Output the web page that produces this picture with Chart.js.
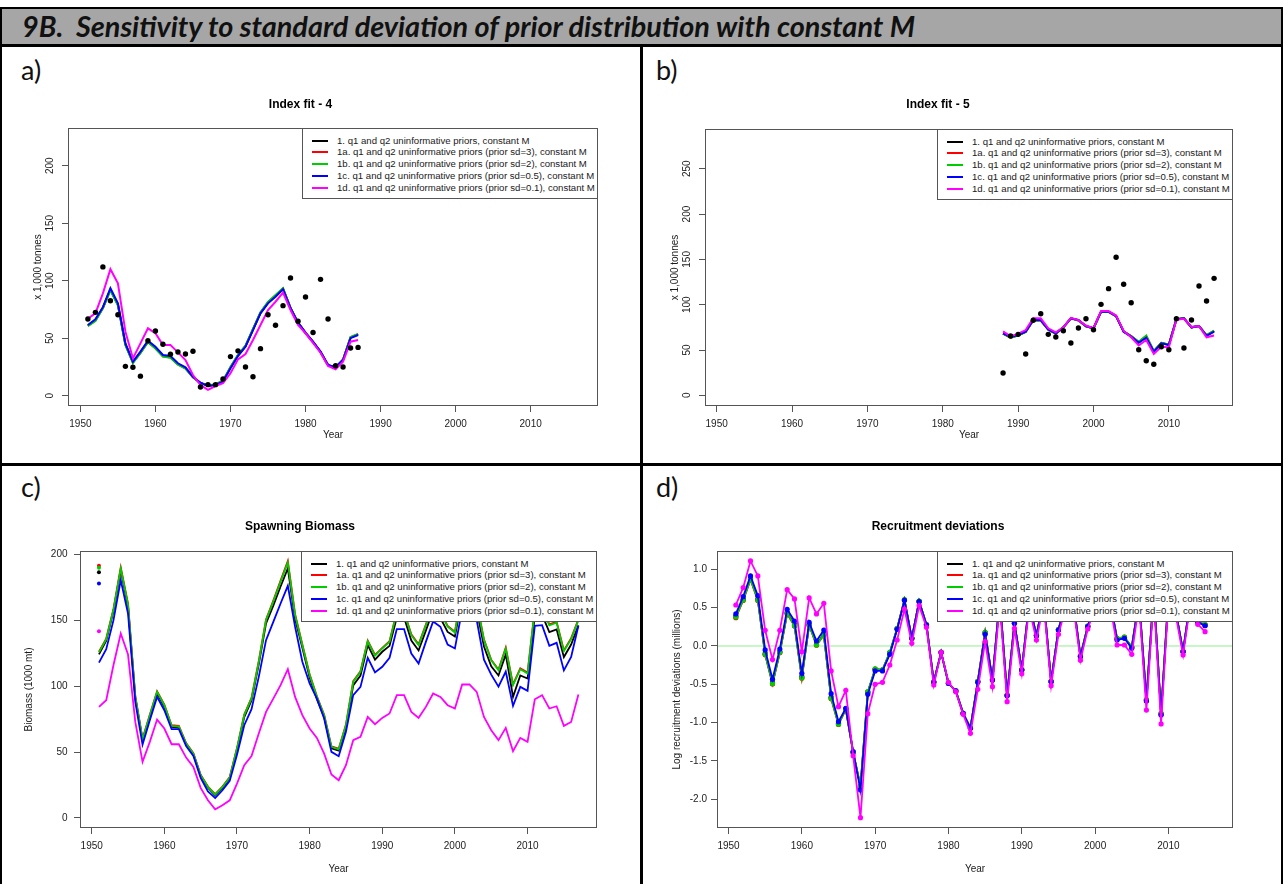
<!DOCTYPE html>
<html>
<head>
<meta charset="utf-8">
<title>9B. Sensitivity to standard deviation of prior distribution with constant M</title>
<script src="https://cdn.jsdelivr.net/npm/chart.js@4.4.1/dist/chart.umd.min.js"></script>
<style>
html, body { margin: 0; padding: 0; background: #fff; }
#page { position: relative; width: 1283px; height: 884px; overflow: hidden; background: #fff; }
.rule { position: absolute; background: #000; z-index: 5; }
#hdr { position: absolute; left: 2px; top: 9px; width: 1279px; height: 35px; background: #a6a6a6; }
#hdrText { position: absolute; left: 20px; top: 0; line-height: 35px; font-family: Lato, 'Open Sans', sans-serif;
  font-weight: 700; font-style: italic; font-size: 26px; color: #111; white-space: pre; }
.tag { position: absolute; font-family: Lato, sans-serif; font-size: 27px; line-height: 30px; color: #111; }
canvas { position: absolute; }
.legend { position: absolute; background: #fff; border: 1px solid #555; box-sizing: border-box; width: 296px; height: 71px;
  font-family: 'Liberation Sans', Arial, sans-serif; font-size: 9.6px; color: #1a1a1a; z-index: 3; padding-top: 5.6px; }
.legend div { height: 11.8px; line-height: 11.8px; white-space: nowrap; position: relative; padding-left: 34px; }
.legend span { position: absolute; left: 8.5px; top: 5px; width: 16px; height: 2px; }
</style>
</head>
<body>
<div id="page">
  <div id="hdr"><span id="hdrText">9B.  Sensitivity to standard deviation of prior distribution with constant M</span></div>
  <div class="tag" style="left:21px; top:55px;">a)</div>
  <div class="tag" style="left:656px; top:55px;">b)</div>
  <div class="tag" style="left:21px; top:472px;">c)</div>
  <div class="tag" style="left:656px; top:472px;">d)</div>
</div>
<script>
// ---- data ----
const yearTicks = [1950, 1960, 1970, 1980, 1990, 2000, 2010];
const yTicksA = [0, 50, 100, 150, 200];
const yTicksB = [0, 50, 100, 150, 200, 250];
const yTicksC = [0, 50, 100, 150, 200];
const yTicksD = [-2, -1.5, -1, -0.5, 0, 0.5, 1];

const seriesNames = [
  '1. q1 and q2 uninformative priors, constant M',
  '1a. q1 and q2 uninformative priors (prior sd=3), constant M',
  '1b. q1 and q2 uninformative priors (prior sd=2), constant M',
  '1c. q1 and q2 uninformative priors (prior sd=0.5), constant M',
  '1d. q1 and q2 uninformative priors (prior sd=0.1), constant M'
];
const seriesColors = ['#000000', '#ff0000', '#00cd00', '#0000ff', '#ff00ff'];

function seq(a, b) { const r = []; for (let y = a; y <= b; y++) r.push(y); return r; }

// a) Index fit - 4 (1951-1987)
const yearsA = seq(1951, 1987);
const obsA = [66.7, 72.5, 112, 82.6, 70.4, 25.5, 24.7, 17, 47.8, 56.2, 44.7, 36, 38, 36.2, 38.6, 7.6, 9.6, 9.6, 14.5,
  34, 39, 25, 16.5, 40.9, 70.4, 61.2, 78.3, 102.3, 64.7, 85.8, 55, 101.2, 66.7, 26, 25, 41.5, 42];
const blackA = [61, 65.7, 76.5, 92.5, 79.5, 44.8, 29, 37.7, 47.2, 41.8, 34.7, 33.8, 27.6, 24.1, 16.2, 11.1, 8.6, 9.6, 12.6,
  24.4, 35, 43, 57.5, 72, 81, 86.8, 93, 76.2, 63.5, 54.6, 46.8, 38.1, 26.6, 24.6, 31.2, 50.5, 53.3];
const redA = [60.8, 65.3, 76.3, 92, 79, 44.3, 28.8, 37.3, 46.8, 41.3, 34.3, 33.3, 27.3, 23.8, 16.1, 11, 8.7, 9.8, 12.8,
  24.7, 35.3, 43.3, 57.8, 72.3, 81.3, 87.2, 93.3, 76.4, 63.5, 54.5, 46.6, 38, 26.5, 24.5, 31.4, 50.8, 53.5];
const greenA = [60.5, 65, 76, 91.5, 78.5, 44, 28.5, 37, 46.5, 41, 34, 33, 27, 23.5, 16, 11, 8.8, 10, 13,
  25, 35.5, 43.5, 58, 72.5, 81.5, 87.5, 93.5, 76.5, 63.5, 54.5, 46.5, 38, 26.5, 24.5, 31.5, 51, 53.8];
const blueA = [61.5, 66.4, 77, 93.4, 80.3, 45.5, 29.6, 38.3, 47.8, 42.6, 35.4, 34.5, 28.2, 24.7, 16.5, 11.3, 8.4, 9.3, 12.2,
  23.8, 34.5, 42.6, 57, 71.6, 80.3, 86, 92.5, 76, 63.5, 54.8, 47, 38.3, 26.7, 24.7, 31, 50, 52.8];
const magentaA = [67, 71.6, 89, 110, 97.7, 55.7, 32.5, 45.5, 58.6, 54.3, 44, 44, 37.7, 31, 18, 9.3, 5, 8.4, 10.8,
  19.5, 31.6, 36.2, 48.4, 61.5, 74.5, 81.7, 89.6, 74.5, 61.5, 54.3, 46, 37.4, 25.8, 23, 29.6, 47, 48.4];

// b) Index fit - 5 (1988-2016)
const yearsB = seq(1988, 2016);
const obsB = [24.6, 65.5, 67.3, 45.6, 82.8, 90, 67.3, 64.3, 71.3, 57.7, 74.3, 84.5, 72.4, 100.4, 117.7, 152.3, 122.5,
  102.2, 50.3, 38.2, 34.2, 53.6, 50.3, 84.5, 52.2, 83.1, 120.6, 104, 129.1];
const blackB = [68.2, 64, 66.3, 70.1, 82.8, 82.8, 72.6, 68.2, 75, 85, 82.8, 76.2, 74, 92.2, 92.2, 87.5, 70.3,
  65, 58.5, 64.5, 48.5, 57.7, 55.7, 84, 85, 75, 76.5, 66, 70.8];
const redB = [68, 63.6, 66.1, 70, 82.6, 82.6, 72.5, 68, 75, 85, 82.6, 76, 74, 92, 92, 87.5, 70.4,
  65.3, 58.8, 65.5, 48.8, 57.9, 55.9, 84, 85, 75, 76.5, 66.3, 71.2];
const greenB = [68, 63.5, 66, 70, 82.5, 82.5, 72.5, 68, 75, 85, 82.5, 76, 74, 92, 92, 87.5, 70.5,
  65.5, 59, 66, 49, 58, 56, 84, 85, 75, 76.5, 66.5, 71.5];
const blueB = [68.5, 64.5, 66.6, 70.2, 83.1, 83.1, 72.8, 68.4, 75, 85, 83.1, 76.5, 74, 92.3, 92.3, 87.5, 70.2,
  64.7, 58, 63.5, 48.1, 57.4, 55.5, 83.9, 85, 75, 76.5, 65.5, 70.2];
const magentaB = [70.5, 65, 68, 72, 85, 85, 74, 69.5, 75, 85.5, 83, 77, 74, 93, 93, 88, 71,
  64, 55, 61, 45.6, 53.6, 53, 83.5, 84.5, 75.5, 76.5, 64, 66];

// c) Spawning Biomass (1951-2017), plus the single points at 1951
const yearsC = seq(1951, 2017);
const blackC = [124, 134.5, 157, 188, 160.5, 91, 59, 77, 94.5, 84.5,
  69, 68.5, 55.8, 48.2, 32, 23, 17.2, 23, 30, 51.5,
  76.5, 89, 116.5, 147.5, 161, 175.5, 189.2, 151, 129, 106.5,
  90, 76.5, 52.8, 51, 68.5, 100.5, 108, 131, 120, 126,
  130.5, 152, 152, 134.5, 127, 142, 157.5, 151.5, 141, 137.5,
  167, 171, 158, 130, 115, 108, 124, 91.8, 108, 105.7,
  153, 154, 141, 143, 122, 131.5, 146];
const redC = [126, 136, 158.5, 190, 162.5, 92.5, 60, 78.3, 96, 86,
  70.3, 69.8, 56.8, 49.2, 32.8, 23.8, 18, 23.8, 31, 53,
  78.5, 91, 119, 150.5, 164.8, 180, 194.8, 154.5, 131.5, 109,
  92.2, 78.3, 54.3, 52.5, 70.8, 103.8, 111.3, 134.5, 123.6, 129,
  134, 156.5, 156.5, 139.2, 131.6, 146.6, 162.5, 156.5, 145.6, 141.2,
  172.5, 176.5, 163.5, 135.4, 120, 112.6, 129.2, 101.3, 113.4, 110.2,
  158.6, 159.6, 146.8, 148.8, 127, 136.3, 150.6];
const greenC = [125.5, 135.6, 158, 189.2, 161.9, 92, 59.7, 77.9, 95.6, 85.5,
  69.8, 69.3, 56.4, 48.8, 32.4, 23.5, 17.7, 23.5, 30.6, 52.6,
  78, 90.6, 118.4, 150, 164, 179, 193.7, 153.8, 131, 108.5,
  91.8, 77.9, 53.9, 52.1, 70.3, 103.2, 110.8, 134, 123, 128.5,
  133.5, 156, 156, 138.6, 131, 146, 162, 156, 145, 140.6,
  172, 176, 163, 134.8, 119.5, 112, 128.5, 100.7, 112.8, 109.5,
  158, 159, 146, 148, 126.4, 135.6, 150];
const blueC = [117.8, 128, 150, 180.3, 155, 88, 55.6, 74, 91.8, 81.7,
  67.3, 67.3, 54.6, 47, 30.4, 20.2, 15.2, 21, 28.1, 48,
  70.3, 82.5, 107, 134.8, 148.7, 162.6, 176, 145, 118.4, 102,
  90.5, 75.4, 50.1, 46.8, 65.3, 93.1, 99.4, 121.4, 110.3, 114.6,
  121.4, 143.2, 143.2, 124.7, 117, 133.5, 149, 145, 131.5, 128.5,
  158, 162, 150, 120, 108.7, 99.6, 111, 85, 99.4, 96.4,
  145.7, 146.2, 130.5, 132.8, 111.9, 122, 145.7];
const magentaC = [84.2, 89.3, 116, 139.9, 123.9, 72.8, 42.5, 57.7, 74.6, 67.8,
  55.9, 55.9, 45.8, 38.7, 22.8, 13.4, 6.6, 9.6, 13.4, 26,
  40, 47, 64, 80.4, 90.5, 100.7, 112.8, 91.8, 78, 67.8,
  60.7, 48.8, 32.9, 28.6, 40, 59, 61.5, 76.6, 71.1, 75.9,
  79.2, 93.1, 93.1, 80.4, 75.9, 84.2, 94.4, 91.8, 85.5, 83,
  101.2, 101.2, 95.6, 76.6, 66.5, 59, 68.3, 50.6, 60.7, 57.7,
  90, 93.1, 83, 84.7, 69.8, 72.8, 93.6];
const startYearC = [1951];
const startBlackC = [186.2];
const startRedC = [191.2];
const startGreenC = [189.7];
const startBlueC = [177.8];
const startMagentaC = [141.6];

// d) Recruitment deviations (1951-2015)
const yearsD = seq(1951, 2015);
const blackD = [0.39, 0.61, 0.88, 0.61, -0.1, -0.48, -0.075, 0.435, 0.275, -0.4,
  0.28, 0.02, 0.155, -0.67, -1.01, -0.82, -1.385, -1.84, -0.605, -0.305,
  -0.315, -0.09, 0.225, 0.6, 0.1, 0.582, 0.277, -0.47, -0.083, -0.487,
  -0.587, -0.879, -1.072, -0.465, 0.17, -0.444, 0.62, -0.644, 0.298, -0.311,
  0.55, 0.138, 0.6, -0.463, 0.212, 0.55, 0.6, -0.134, 0.256, 0.55,
  0.7, 0.6, 0.09, 0.108, -0.02, 0.6, -0.71, 0.7, -0.89, 0.65,
  0.45, -0.072, 0.6, 0.315, 0.272];
const redD = [0.37, 0.595, 0.865, 0.595, -0.115, -0.495, -0.088, 0.42, 0.26, -0.42,
  0.27, 0.01, 0.14, -0.69, -1.025, -0.826, -1.392, -1.83, -0.6, -0.302,
  -0.31, -0.085, 0.228, 0.603, 0.1, 0.584, 0.279, -0.47, -0.083, -0.487,
  -0.587, -0.879, -1.07, -0.46, 0.176, -0.444, 0.62, -0.64, 0.3, -0.31,
  0.55, 0.14, 0.6, -0.46, 0.215, 0.55, 0.6, -0.13, 0.26, 0.55,
  0.7, 0.6, 0.1, 0.115, -0.01, 0.6, -0.7, 0.7, -0.88, 0.65,
  0.45, -0.07, 0.6, 0.32, 0.28];
const greenD = [0.379, 0.6, 0.87, 0.6, -0.109, -0.49, -0.083, 0.426, 0.265, -0.413,
  0.274, 0.013, 0.144, -0.683, -1.02, -0.822, -1.39, -1.823, -0.596, -0.3,
  -0.31, -0.083, 0.23, 0.605, 0.1, 0.585, 0.28, -0.47, -0.083, -0.487,
  -0.587, -0.879, -1.07, -0.46, 0.178, -0.444, 0.62, -0.64, 0.3, -0.31,
  0.55, 0.14, 0.6, -0.46, 0.215, 0.55, 0.6, -0.13, 0.26, 0.55,
  0.7, 0.6, 0.1, 0.115, -0.01, 0.6, -0.7, 0.7, -0.88, 0.65,
  0.45, -0.07, 0.6, 0.32, 0.28];
const blueD = [0.418, 0.644, 0.914, 0.657, -0.052, -0.435, -0.039, 0.479, 0.326, -0.357,
  0.309, 0.065, 0.209, -0.622, -0.988, -0.814, -1.379, -1.88, -0.631, -0.326,
  -0.326, -0.109, 0.218, 0.596, 0.1, 0.579, 0.274, -0.47, -0.083, -0.487,
  -0.587, -0.879, -1.075, -0.474, 0.152, -0.444, 0.62, -0.648, 0.296, -0.313,
  0.55, 0.135, 0.6, -0.466, 0.209, 0.55, 0.6, -0.139, 0.252, 0.55,
  0.7, 0.6, 0.078, 0.1, -0.03, 0.6, -0.718, 0.7, -0.9, 0.65,
  0.45, -0.074, 0.6, 0.309, 0.265];
const magentaD = [0.535, 0.762, 1.11, 0.914, 0.205, -0.178, 0.205, 0.735, 0.614, -0.074,
  0.627, 0.418, 0.557, -0.326, -0.792, -0.579, -1.432, -2.241, -0.883, -0.5,
  -0.474, -0.248, 0.078, 0.483, 0.035, 0.527, 0.244, -0.509, -0.083, -0.474,
  -0.596, -0.892, -1.14, -0.566, 0.057, -0.531, 0.55, -0.727, 0.231, -0.361,
  0.5, 0.078, 0.55, -0.518, 0.152, 0.5, 0.55, -0.187, 0.222, 0.5,
  0.65, 0.55, 0.013, 0.013, -0.109, 0.55, -0.836, 0.65, -1.018, 0.6,
  0.4, -0.117, 0.55, 0.283, 0.187];
const zeroLineX = [1948, 2020];
const zeroLineY = [0, 0];

// ---- page frame ----
const page = document.getElementById('page');
function rule(l, t, w, h) {
  const d = document.createElement('div');
  d.className = 'rule';
  d.style.left = l + 'px'; d.style.top = t + 'px';
  d.style.width = w + 'px'; d.style.height = h + 'px';
  page.appendChild(d);
}
rule(0, 7, 1283, 2);
rule(0, 44, 1283, 2.5);
rule(0, 7, 2, 877);
rule(1281, 7, 2, 877);
rule(640, 44, 3, 840);
rule(0, 463, 1283, 3);

// fit header text to its width in the reference
const ht = document.getElementById('hdrText');
const mctx = document.createElement('canvas').getContext('2d');
mctx.font = 'italic 700 26px Lato';
const hw = mctx.measureText(ht.textContent).width;
ht.style.fontSize = (26 * 895 / hw).toFixed(2) + 'px';

// ---- charts ----
Chart.defaults.font.family = "'Liberation Sans', Arial, sans-serif";
Chart.defaults.color = '#1a1a1a';

const boxPlugin = {
  id: 'box',
  afterDatasetsDraw(chart) {
    const a = chart.chartArea, ctx = chart.ctx;
    ctx.save();
    ctx.strokeStyle = '#555';
    ctx.lineWidth = 1;
    ctx.strokeRect(a.left + 0.5, a.top + 0.5, a.right - a.left - 1, a.bottom - a.top - 1);
    ctx.restore();
  }
};

function pts(xs, ys) { return ys.map((y, i) => ({ x: xs[i], y: y })); }

function line(xs, ys, color, order, extra) {
  return Object.assign({
    data: pts(xs, ys), borderColor: color, backgroundColor: color, borderWidth: 2,
    pointRadius: 0, tension: 0, order: order
  }, extra || {});
}

function dots(xs, ys, color, order, r) {
  return {
    data: pts(xs, ys), showLine: false, pointRadius: r, pointBackgroundColor: color,
    pointBorderWidth: 0, borderColor: color, backgroundColor: color, order: order
  };
}

function modelLines(xs, arrs, extra) {
  // black, red, green, blue, magenta; magenta drawn on top
  return arrs.map((ys, i) => line(xs, ys, seriesColors[i], 6 - i, extra));
}

function legend(right, top) {
  const lg = document.createElement('div');
  lg.className = 'legend';
  lg.style.left = (right - 296) + 'px';
  lg.style.top = top + 'px';
  seriesNames.forEach((name, i) => {
    const row = document.createElement('div');
    const sw = document.createElement('span');
    sw.style.background = seriesColors[i];
    row.appendChild(sw);
    row.appendChild(document.createTextNode(name));
    lg.appendChild(row);
  });
  page.appendChild(lg);
}

function panel(cv, box, o) {
  const [cl, ct, cw, ch] = cv;
  const [bl, bt, br, bb] = box;
  const c = document.createElement('canvas');
  c.width = cw; c.height = ch;
  c.style.left = cl + 'px'; c.style.top = ct + 'px';
  c.style.width = cw + 'px'; c.style.height = ch + 'px';
  page.appendChild(c);
  const yW = bl - cl, xH = ct + ch - bb;
  const tLH = 14.4, aLH = 12;
  const tTop = o.titleY - ct - tLH / 2;
  const yTickOpts = { padding: o.yPad, font: { size: o.tickSize }, color: '#222', autoSkip: false, callback: o.yFmt };
  if (o.yRot) Object.assign(yTickOpts, { minRotation: 90, maxRotation: 90, crossAlign: 'center' });
  new Chart(c, {
    type: 'line',
    data: { datasets: o.datasets },
    options: {
      responsive: false, animation: false, events: [],
      layout: { padding: { left: 0, top: 0, bottom: 0, right: cl + cw - br } },
      plugins: {
        legend: { display: false }, tooltip: { enabled: false },
        title: { display: true, text: o.title, font: { size: 12, weight: 'bold' }, color: '#000',
          padding: { top: tTop, bottom: bt - ct - tTop - tLH } }
      },
      scales: {
        x: {
          type: 'linear', min: o.xMin, max: o.xMax,
          afterBuildTicks: s => { s.ticks = yearTicks.map(v => ({ value: v })); },
          afterFit: s => { s.height = xH; },
          border: { display: false },
          grid: { drawOnChartArea: false, tickLength: 6, color: '#555' },
          ticks: { padding: o.xPad, font: { size: o.tickSize }, color: '#222', autoSkip: false, maxRotation: 0,
            callback: v => String(v) },
          title: { display: true, text: 'Year', font: { size: 10 }, color: '#1a1a1a',
            padding: { top: 0, bottom: ct + ch - o.xTitleY - aLH / 2 } }
        },
        y: {
          type: 'linear', min: o.yMin, max: o.yMax,
          afterBuildTicks: s => { s.ticks = o.yTicks.map(v => ({ value: v })); },
          afterFit: s => { s.width = yW; },
          border: { display: false },
          grid: { drawOnChartArea: false, tickLength: 6, color: '#555' },
          ticks: yTickOpts,
          title: { display: true, text: o.yTitle, font: { size: 10 }, color: '#1a1a1a',
            padding: { top: o.yTitleX - cl - aLH / 2, bottom: 0 } }
        }
      }
    },
    plugins: [boxPlugin]
  });
  legend(br, bt);
}

const intFmt = v => String(v);

// a)
panel([3, 47, 637, 416], [68, 128, 598, 406], {
  title: 'Index fit - 4', titleY: 105, xTitleY: 435, yTitle: 'x 1,000 tonnes', yTitleX: 38,
  xMin: 1948.35, xMax: 2018.97, yMin: -8.96, yMax: 232.8, yTicks: yTicksA, yFmt: intFmt, yRot: true,
  tickSize: 10, xPad: 6.3, yPad: 3.5,
  datasets: [dots(yearsA, obsA, '#000', 0, 2.7)].concat(
    modelLines(yearsA, [blackA, redA, greenA, blueA, magentaA]))
});

// b)
panel([643, 47, 637, 416], [705, 129, 1233, 406], {
  title: 'Index fit - 5', titleY: 105, xTitleY: 435, yTitle: 'x 1,000 tonnes', yTitleX: 675.5,
  xMin: 1948.45, xMax: 2018.51, yMin: -11.8, yMax: 293.9, yTicks: yTicksB, yFmt: intFmt, yRot: true,
  tickSize: 10, xPad: 6.3, yPad: 3.5,
  datasets: [dots(yearsB, obsB, '#000', 0, 2.7)].concat(
    modelLines(yearsB, [blackB, redB, greenB, blueB, magentaB]))
});

// c)
panel([3, 466, 637, 418], [80, 551, 597, 828], {
  title: 'Spawning Biomass', titleY: 527, xTitleY: 869, yTitle: 'Biomass (1000 mt)', yTitleX: 29,
  xMin: 1948.39, xMax: 2019.56, yMin: -7.6, yMax: 202.4, yTicks: yTicksC, yFmt: intFmt, yRot: false,
  tickSize: 10, xPad: 6, yPad: 6.5,
  datasets: [
    dots(startYearC, startMagentaC, seriesColors[4], 1, 2),
    dots(startYearC, startBlueC, seriesColors[3], 2, 2),
    dots(startYearC, startGreenC, seriesColors[2], 3, 2),
    dots(startYearC, startRedC, seriesColors[1], 4, 2),
    dots(startYearC, startBlackC, seriesColors[0], 5, 2)
  ].concat(modelLines(yearsC, [blackC, redC, greenC, blueC, magentaC], { borderWidth: 1.8 }))
});

// d)
panel([643, 466, 637, 418], [717, 551, 1233, 828], {
  title: 'Recruitment deviations', titleY: 527, xTitleY: 869, yTitle: 'Log recruitment deviations (millions)', yTitleX: 677,
  xMin: 1948.43, xMax: 2018.81, yMin: -2.376, yMax: 1.24, yTicks: yTicksD, yFmt: v => v.toFixed(1), yRot: false,
  tickSize: 10, xPad: 6, yPad: 4,
  datasets: [line(zeroLineX, zeroLineY, '#90ee90', 20, { borderWidth: 1 })].concat(
    modelLines(yearsD, [blackD, redD, greenD, blueD, magentaD],
      { pointRadius: 2.6, pointBorderWidth: 0, borderWidth: 1.8 }))
});
</script>
</body>
</html>
